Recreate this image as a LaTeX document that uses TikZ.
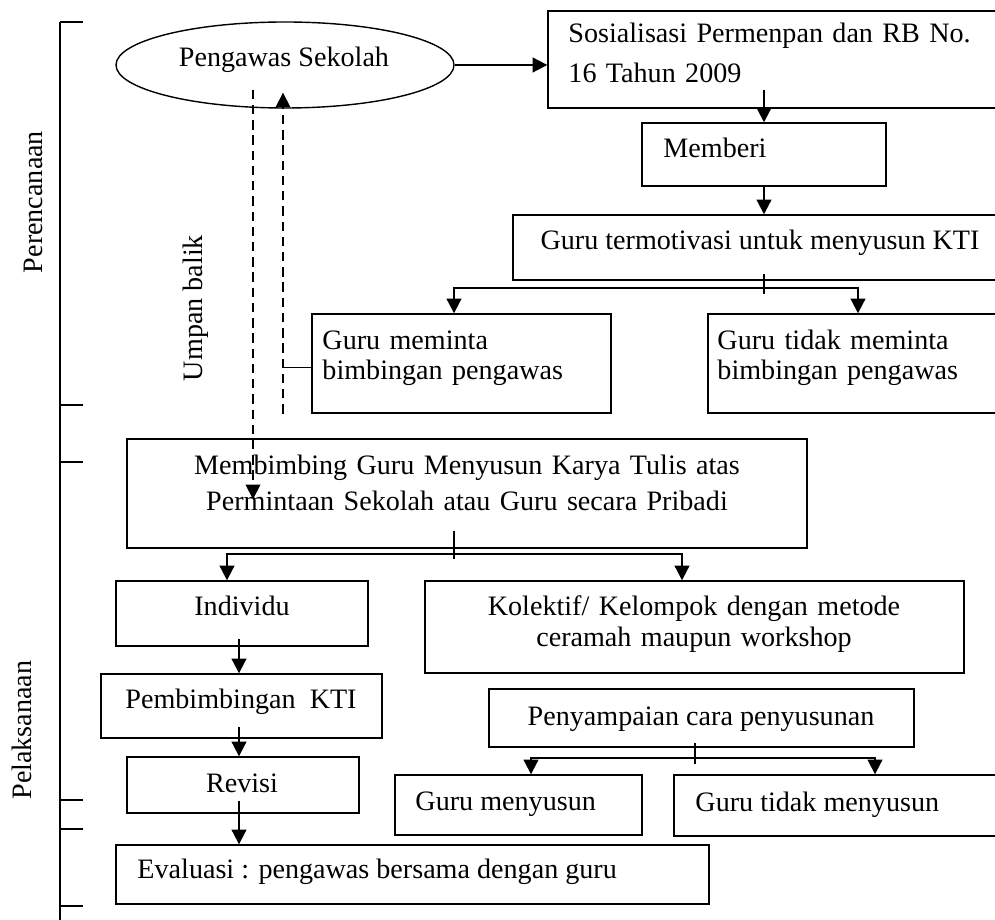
\documentclass[tikz,border=0pt]{standalone}
\usepackage{fontspec}
\setmainfont{Liberation Serif}
\usetikzlibrary{arrows.meta,shapes.geometric,calc,fit,positioning}

\tikzset{
  box/.style={draw, line width=0.6pt, inner sep=0pt},
  txt/.style={inner sep=0pt, font=\fontsize{12}{14}\selectfont},
  arr/.style={line width=0.9pt, -{Triangle[width=6.3pt,length=6.3pt]}},
  fb/.style={line width=0.7pt, dash pattern=on 4pt off 2.5pt},
  fbarr/.style={fb, -{Triangle[width=6.3pt,length=6.3pt]}},
  tick/.style={line width=0.5pt},
}

\begin{document}
\begin{tikzpicture}[x=0.015cm, y=-0.015cm]
\useasboundingbox (0,0) rectangle (995,920);
\clip (0,0) rectangle (995,920);

% phases on the left
\draw[line width=0.6pt] (60,22) -- (60,925);
\foreach \ty in {22,405,462,800,829,906}
  \draw[line width=0.6pt] (60,\ty) -- (83,\ty);
\node[txt, rotate=90] (plan) at (33,202) {Perencanaan};
\node[txt, rotate=90] (exec) at (22,730) {Pelaksanaan};

% shapes
\node[draw, ellipse, line width=0.6pt, inner sep=0pt, minimum width=5.07cm, minimum height=1.29cm] (peng) at (285,65) {};
\node[box, fit={(548,11) (1010,108)}] (sos) {};
\node[box, fit={(642,123) (886,186)}] (mem) {};
\node[box, fit={(513,215) (1015,280)}] (ter) {};
\node[box, fit={(312,314) (611,413)}] (mint) {};
\node[box, fit={(708,314) (1008,413)}] (tdk) {};
\node[box, fit={(127,439) (807,548)}] (bimb) {};
\node[box, fit={(116,581) (368,646)}] (ind) {};
\node[box, fit={(425,581) (964,673)}] (kol) {};
\node[box, fit={(101,674) (382,738)}] (pem) {};
\node[box, fit={(127,757) (359,813)}] (rev) {};
\node[box, fit={(116,845) (709,904)}] (eva) {};
\node[box, fit={(489,689) (914,747)}] (pen) {};
\node[box, fit={(395,775) (642,835)}] (gm) {};
\node[box, fit={(674,775) (1076,836)}] (gtm) {};

% texts
\node[txt, anchor=base] (pengtxt) at (284,67) {Pengawas Sekolah};
\node[txt, anchor=base west, text width=8cm, align=left, font=\fontsize{12}{16.7}\selectfont] (sostxt) at (568,43) {Sosialisasi Permenpan dan RB No.\\16 Tahun 2009};
\node[txt, anchor=base west] (memtxt) at (663,158) {Memberi};
\node[txt, anchor=base] (tertxt) at (760,250) {Guru termotivasi untuk menyusun KTI};
\node[txt, anchor=base west, text width=5cm, align=left, font=\fontsize{12}{12.8}\selectfont] (minttxt) at (322,350) {Guru meminta\\bimbingan pengawas};
\node[txt, anchor=base west, text width=5cm, align=left, font=\fontsize{12}{12.8}\selectfont] (tdktxt) at (717,350) {Guru tidak meminta\\bimbingan pengawas};
\node[txt, rotate=90] (fbtxt) at (196,308) {Umpan balik};
\node[txt, anchor=base, text width=10cm, align=center, font=\fontsize{12}{15}\selectfont] (bimbtxt) at (467,475) {Membimbing Guru Menyusun Karya Tulis atas\\Permintaan Sekolah atau Guru secara Pribadi};
\node[txt, anchor=base] (indtxt) at (242,615) {Individu};
\node[txt, anchor=base, text width=8cm, align=center, font=\fontsize{12}{13.5}\selectfont] (koltxt) at (694,615) {Kolektif/ Kelompok dengan metode\\ceramah maupun workshop};
\node[txt, anchor=base] (pemtxt) at (241,708) {Pembimbingan\ \ KTI};
\node[txt, anchor=base] (revtxt) at (242,792) {Revisi};
\node[txt, anchor=base west] (evatxt) at (137,878) {Evaluasi : pengawas bersama dengan guru};
\node[txt, anchor=base] (pentxt) at (701,725) {Penyampaian cara penyusunan};
\node[txt, anchor=base west] (gmtxt) at (415,810) {Guru menyusun};
\node[txt, anchor=base west] (gtmtxt) at (695,811) {Guru tidak menyusun};

% planning flow
\draw[arr] (peng.east) -- (peng.east -| sos.west);
\draw[arr] ($(mem.north |- sos.south)+(0,-19)$) -- (mem.north);
\draw[arr] (mem.south) -- (mem.south |- ter.north);
\coordinate (tj) at ($(ter.south)+(0,7)$);
\draw[tick] ($(ter.south)+(0,-7)$) -- ++(0,20);
\draw[arr] (tj) -| ($(mint.north)+(-7.5,0)$);
\draw[arr] (tj) -| (tdk.north);

% feedback
\draw[fbarr] ($(peng.south)+(-32,-19)$) -- ($(peng.south |- bimb.north)+(-32,61)$);
\draw[fbarr] ($(peng.south |- mint.south)+(-2,0)$) -- ($(peng.south)+(-2,-16)$);
\draw[line width=0.6pt] ($(mint.west)+(0,4)$) -- ++(-29,0);

% execution flow
\coordinate (bj) at ($(bimb.south)+(-13,5)$);
\draw[tick] ($(bimb.south)+(-13,-18)$) -- ++(0,28);
\draw[arr] (bj) -| ($(ind.north)+(-15,0)$);
\draw[arr] (bj) -| ($(kol.north)+(-12.5,0)$);
\draw[arr] ($(ind.south)+(-3,-8)$) -- ($(ind.south |- pem.north)+(-3,0)$);
\draw[arr] ($(pem.south)+(-2.5,-12)$) -- ($(pem.south |- rev.north)+(-2.5,0)$);
\draw[arr] ($(rev.south)+(-4,-13)$) -- ($(rev.south |- eva.north)+(-4,0)$);
\coordinate (pj) at ($(pen.south)+(-6.5,10)$);
\draw[tick] ($(pen.south)+(-6.5,-5)$) -- ++(0,21);
\draw[arr] (pj) -| ($(gm.north)+(12.5,0)$);
\draw[arr] (pj) -| (gtm.north);
\end{tikzpicture}
\end{document}
